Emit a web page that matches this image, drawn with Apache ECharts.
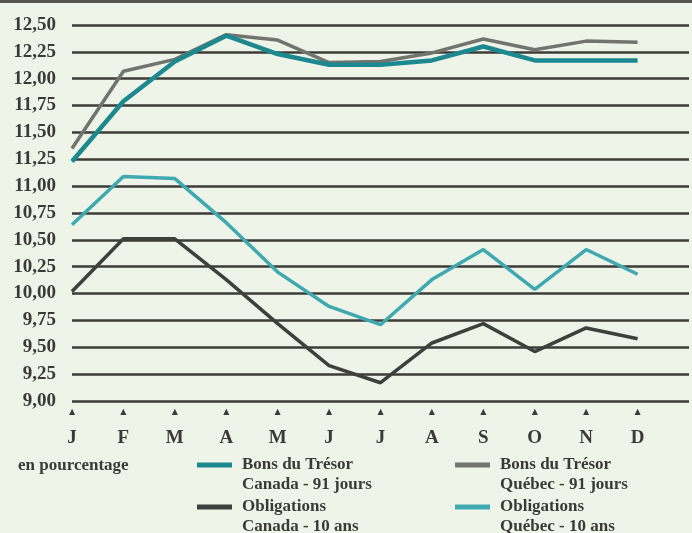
<!DOCTYPE html>
<html>
<head>
<meta charset="utf-8">
<script src="https://cdn.jsdelivr.net/npm/echarts@6/dist/echarts.min.js"></script>
<style>
  html, body { margin: 0; padding: 0; background: #eff4e8; }
  #chart { width: 692px; height: 533px; }
</style>
</head>
<body>
<div id="chart"></div>
<script>
// Mois (the trailing blank slot lets the grid lines run to the right edge)
const months = ['J', 'F', 'M', 'A', 'M', 'J', 'J', 'A', 'S', 'O', 'N', 'D', ''];

// Taux en pourcentage
const bonsCanada = [11.23, 11.79, 12.16, 12.40, 12.23, 12.13, 12.13, 12.17, 12.30, 12.17, 12.17, 12.17];
const bonsQuebec = [11.35, 12.07, 12.18, 12.41, 12.36, 12.15, 12.16, 12.24, 12.37, 12.27, 12.35, 12.34];
const obligCanada = [10.02, 10.51, 10.51, 10.13, 9.72, 9.33, 9.17, 9.54, 9.72, 9.46, 9.68, 9.58];
const obligQuebec = [10.64, 11.09, 11.07, 10.66, 10.20, 9.88, 9.71, 10.13, 10.41, 10.04, 10.41, 10.18];

const seriesNames = [
  'Bons du Trésor Canada - 91 jours',
  'Bons du Trésor Québec - 91 jours',
  'Obligations Canada - 10 ans',
  'Obligations Québec - 10 ans'
];
const legendLines = {
  'Bons du Trésor Canada - 91 jours': ['Bons du Trésor', 'Canada - 91 jours'],
  'Bons du Trésor Québec - 91 jours': ['Bons du Trésor', 'Québec - 91 jours'],
  'Obligations Canada - 10 ans': ['Obligations', 'Canada - 10 ans'],
  'Obligations Québec - 10 ans': ['Obligations', 'Québec - 10 ans']
};
const unitLabel = 'en pourcentage';

const ink = '#3a3b36';
const serif = '"Liberation Serif", "Times New Roman", serif';

const chart = echarts.init(document.getElementById('chart'), null, { renderer: 'canvas' });

// One legend block per series; a leading empty line keeps the swatch
// level with the first line of its two-line caption.
function legendAt(name, left, top) {
  return {
    data: [name],
    left: left,
    top: top,
    padding: 0,
    icon: 'rect',
    itemWidth: 35,
    itemHeight: 5,
    selectedMode: false,
    formatter: n => '\n' + legendLines[n].join('\n'),
    textStyle: {
      fontFamily: serif,
      fontWeight: 'bold',
      fontSize: 17,
      lineHeight: 20,
      color: ink,
      padding: [0, 0, 0, 5]
    }
  };
}

chart.setOption({
  backgroundColor: '#eff4e8',
  animation: false,
  title: {
    text: unitLabel,
    left: 18,
    top: 457,
    padding: 0,
    textStyle: { fontFamily: serif, fontWeight: 'bold', fontSize: 17, color: ink }
  },
  legend: [
    legendAt(seriesNames[0], 197, 435),
    legendAt(seriesNames[2], 197, 477),
    legendAt(seriesNames[1], 455, 435),
    legendAt(seriesNames[3], 455, 477)
  ],
  graphic: [{
    type: 'line',
    shape: { x1: 0, y1: 1.5, x2: 692, y2: 1.5 },
    style: { stroke: '#55574f', lineWidth: 3 },
    silent: true
  }],
  grid: { left: 72, right: -2, top: 25, bottom: 132 },
  xAxis: {
    type: 'category',
    data: months,
    boundaryGap: false,
    axisLine: { show: false },
    axisTick: { show: false },
    splitLine: { show: false },
    axisLabel: {
      margin: 5,
      interval: 0,
      formatter: v => v ? '{t|▲}\n{m|' + v + '}' : '',
      rich: {
        t: { fontSize: 8, lineHeight: 12, color: ink, fontFamily: 'DejaVu Sans' },
        m: { fontSize: 19, lineHeight: 40, color: ink, fontFamily: serif, fontWeight: 'bold' }
      }
    }
  },
  yAxis: {
    type: 'value',
    min: 9,
    max: 12.5,
    interval: 0.25,
    axisLine: { show: false },
    axisTick: { show: false },
    axisLabel: {
      margin: 16,
      formatter: v => v.toFixed(2).replace('.', ','),
      fontFamily: serif,
      fontWeight: 'bold',
      fontSize: 19,
      color: ink
    },
    splitLine: { lineStyle: { color: '#3c3d38', width: 2.5 } }
  },
  series: [
    {
      name: seriesNames[1], type: 'line', data: bonsQuebec, symbol: 'none', z: 2,
      lineStyle: { color: '#72746e', width: 3.5 }, itemStyle: { color: '#72746e' }
    },
    {
      name: seriesNames[0], type: 'line', data: bonsCanada, symbol: 'none', z: 3,
      lineStyle: { color: '#1c8890', width: 4.5 }, itemStyle: { color: '#1c8890' }
    },
    {
      name: seriesNames[2], type: 'line', data: obligCanada, symbol: 'none', z: 2,
      lineStyle: { color: '#3d403b', width: 3.5 }, itemStyle: { color: '#3d403b' }
    },
    {
      name: seriesNames[3], type: 'line', data: obligQuebec, symbol: 'none', z: 2,
      lineStyle: { color: '#3fa9b2', width: 3.5 }, itemStyle: { color: '#3fa9b2' }
    }
  ]
});
</script>
</body>
</html>
